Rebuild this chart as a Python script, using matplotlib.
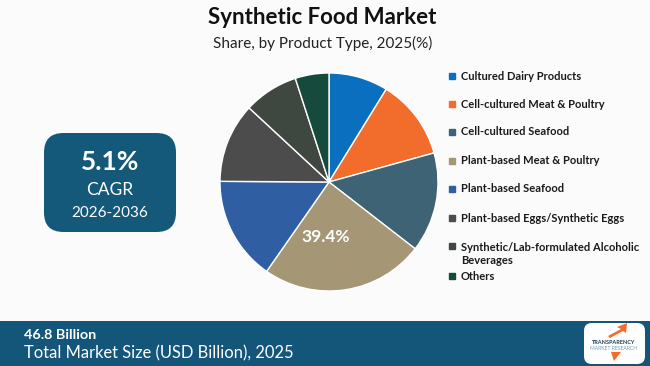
import matplotlib
matplotlib.use("Agg")
import matplotlib.pyplot as plt
from matplotlib.patches import FancyBboxPatch, Rectangle, Polygon

# data
categories = [
    "Cultured Dairy Products",
    "Cell-cultured Meat & Poultry",
    "Cell-cultured Seafood",
    "Plant-based Meat & Poultry",
    "Plant-based Seafood",
    "Plant-based Eggs/Synthetic Eggs",
    "Synthetic/Lab-formulated Alcoholic\nBeverages",
    "Others",
]
shares = [8.8, 11.9, 14.8, 24.2, 15.4, 11.8, 8.1, 5.0]
colors = ["#0A6FBF", "#F26C2B", "#3E6374", "#A59675", "#2F5EA3",
          "#4C4C4C", "#3F4840", "#164A3C"]
highlight_label = "39.4%"

cagr = "5.1%"
cagr_period = "2026-2036"
market_size = "46.8 Billion"
market_text = "Total Market Size (USD Billion), 2025"

W, H = 650, 366
fig = plt.figure(figsize=(W / 100, H / 100), dpi=100)
fig.patch.set_facecolor("#FBFBFB")

def px(x, y):
    return x / W, 1 - y / H

# title
fig.text(*px(322, 17), "Synthetic Food Market", ha="center", va="center",
         fontsize=16, fontweight="bold", family="Lato", color="#111111")
fig.text(*px(323, 43), "Share, by Product Type, 2025(%)", ha="center", va="center",
         fontsize=11, family="Lato", color="#222222")

# pie
cx, cy, r = 329, 182, 109
ax = fig.add_axes([(cx - r) / W, (H - cy - r) / H, 2 * r / W, 2 * r / H])
wedges, _ = ax.pie(shares, colors=colors, startangle=90, counterclock=False,
                   wedgeprops=dict(edgecolor="white", linewidth=1))
ax.set_xlim(-1, 1)
ax.set_ylim(-1, 1)
ax.set_aspect("equal")
ax.axis("off")
fig.text(*px(326, 237), highlight_label, ha="center", va="center",
         fontsize=12.5, fontweight="bold", family="Lato", color="white")

# legend
rows_y = [76, 104, 132, 161, 189, 218, 254, 276]
for lab, col, y in zip(categories, colors, rows_y):
    first_y = y - 8 if "\n" in lab else y
    fig.patches.append(Rectangle(px(449, first_y + 3), 6 / W, 6 / H,
                                 transform=fig.transFigure, color=col))
    fig.text(*px(461, y), lab, ha="left", va="center", fontsize=8,
             fontweight="bold", family="Lato", color="#1a1a1a", linespacing=1.25)

# CAGR box
box = FancyBboxPatch(px(44, 232), 132 / W, 99 / H,
                     boxstyle="round,pad=0,rounding_size=0.03",
                     transform=fig.transFigure, facecolor="#14587A", edgecolor="none",
                     mutation_aspect=W / H)
fig.patches.append(box)
fig.text(*px(110, 162), cagr, ha="center", va="center", fontsize=19,
         fontweight="bold", family="Lato", color="white")
fig.text(*px(110, 190), "CAGR", ha="center", va="center", fontsize=12.5,
         family="Lato", color="white")
fig.text(*px(110, 213), cagr_period, ha="center", va="center", fontsize=11,
         family="Lato", color="white")

# footer band
fig.patches.append(Rectangle((0, 0), 1, 45 / H, transform=fig.transFigure,
                             facecolor="#14557A", edgecolor="none"))
fig.text(*px(24, 335), market_size, ha="left", va="center", fontsize=10.4,
         fontweight="bold", family="Lato", color="white")
fig.text(*px(24, 353), market_text, ha="left", va="center", fontsize=11.9,
         family="Lato", color="white")

# logo
logo = FancyBboxPatch(px(584, 364), 61 / W, 41 / H,
                      boxstyle="round,pad=0,rounding_size=0.012",
                      transform=fig.transFigure, facecolor="white", edgecolor="none",
                      mutation_aspect=W / H)
fig.patches.append(logo)
fig.patches.append(Polygon([px(608, 336), px(621, 329), px(617, 327), px(627, 323),
                            px(626, 333), px(623, 331), px(610, 338)],
                           closed=True, transform=fig.transFigure,
                           facecolor="#F26C2B", edgecolor="none"))
fig.patches.append(Polygon([px(611, 352), px(621, 352), px(614, 361)],
                           closed=True, transform=fig.transFigure,
                           facecolor="#F26C2B", edgecolor="none"))
fig.text(*px(614, 342), "TRANSPARENCY", ha="center", va="center", fontsize=4,
         fontweight="bold", family="Lato", color="#1B3C5C")
fig.text(*px(614, 348), "MARKET RESEARCH", ha="center", va="center", fontsize=3.6,
         family="Lato", color="#6A9CB8")

fig.savefig("out.png", dpi=100, facecolor=fig.get_facecolor())
